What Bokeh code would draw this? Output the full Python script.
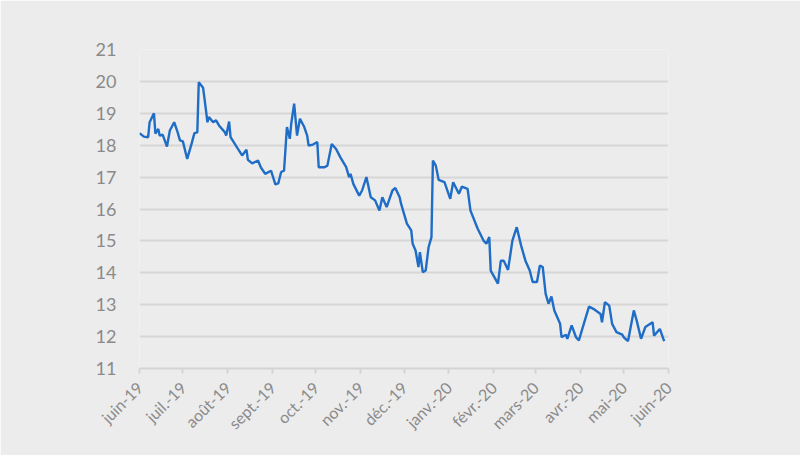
import math
import pandas as pd
from bokeh.plotting import figure
from bokeh.models import FixedTicker, Range1d
from bokeh.embed import file_html
from bokeh.resources import INLINE

start_date = "2019-06-01"
end_date = "2020-06-01"

# days since start_date
day_offsets = [0, 3, 6, 7, 10, 11, 13, 14, 16, 19, 21, 24, 26, 28, 30, 33, 36, 38, 40, 41,
               44, 45, 47, 48, 51, 53, 55, 59, 60, 62, 63, 68, 71, 74, 75, 78, 82, 84, 87, 91,
               94, 96, 98, 100, 102, 104, 105, 107, 109, 111, 114, 116, 117, 120, 123, 124, 128,
               130, 133, 136, 139, 143, 145, 146, 148, 152, 154, 157, 160, 163, 166, 168, 171,
               175, 177, 180, 181, 185, 188, 189, 191, 193, 194, 196, 198, 200, 202, 203, 205,
               207, 211, 215, 217, 221, 223, 227, 229, 234, 238, 240, 242, 243, 248, 250, 252,
               255, 258, 261, 264, 267, 270, 272, 275, 277, 279, 281, 283, 285, 287, 291, 292,
               295, 296, 299, 302, 304, 306, 311, 314, 319, 320, 322, 325, 327, 330, 334, 335,
               338, 342, 344, 347, 350, 355, 356, 360, 363]
values = [18.38, 18.27, 18.25, 18.72, 19.0, 18.36, 18.51, 18.3, 18.33, 17.96, 18.46, 18.72,
          18.46, 18.15, 18.12, 17.57, 18.04, 18.38, 18.4, 19.97, 19.8, 19.45, 18.72, 18.88,
          18.72, 18.78, 18.62, 18.41, 18.3, 18.74, 18.25, 17.89, 17.68, 17.86, 17.54, 17.43,
          17.52, 17.3, 17.1, 17.2, 16.77, 16.8, 17.16, 17.2, 18.57, 18.2, 18.68, 19.3, 18.3,
          18.83, 18.57, 18.3, 17.99, 18.02, 18.1, 17.31, 17.31, 17.36, 18.04, 17.88, 17.62,
          17.31, 17.0, 17.1, 16.78, 16.42, 16.58, 17.0, 16.37, 16.27, 15.95, 16.37, 16.06,
          16.58, 16.66, 16.37, 16.16, 15.54, 15.33, 14.91, 14.7, 14.18, 14.65, 14.02, 14.07,
          14.8, 15.12, 17.52, 17.36, 16.91, 16.84, 16.32, 16.84, 16.48, 16.7, 16.63, 15.95,
          15.38, 15.01, 14.91, 15.12, 14.07, 13.66, 14.38, 14.38, 14.09, 15.01, 15.43, 14.86,
          14.38, 14.07, 13.71, 13.71, 14.23, 14.18, 13.34, 13.03, 13.26, 12.82, 12.4, 11.98,
          12.06, 11.93, 12.35, 11.98, 11.88, 12.19, 12.94, 12.87, 12.71, 12.45, 13.08, 12.97,
          12.4, 12.14, 12.06, 11.98, 11.86, 12.82, 12.5, 11.93, 12.3, 12.45, 12.03, 12.24, 11.86]

month_starts = ["2019-06-01", "2019-07-01", "2019-08-01", "2019-09-01", "2019-10-01",
                "2019-11-01", "2019-12-01", "2020-01-01", "2020-02-01", "2020-03-01",
                "2020-04-01", "2020-05-01", "2020-06-01"]
month_labels = ["juin-19", "juil.-19", "août-19", "sept.-19", "oct.-19", "nov.-19",
                "déc.-19", "janv.-20", "févr.-20", "mars-20", "avr.-20", "mai-20", "juin-20"]
y_ticks = [11, 12, 13, 14, 15, 16, 17, 18, 19, 20, 21]


def ms(d):
    return float(pd.Timestamp(d).value // 10**6)


dates = pd.Timestamp(start_date) + pd.to_timedelta(day_offsets, unit="D")

BG = "#ececec"
p = figure(width=800, height=455, x_axis_type="datetime",
           x_range=Range1d(ms(start_date), ms(end_date)),
           y_range=Range1d(min(y_ticks), max(y_ticks)),
           output_backend="svg", toolbar_location=None,
           min_border_left=139, min_border_right=132,
           min_border_top=49, min_border_bottom=87)
p.background_fill_color = BG
p.border_fill_color = BG
p.outline_line_color = None

p.line(dates, values, line_color="#1f6dc6", line_width=2.4)

tick_ms = [ms(m) for m in month_starts]
p.xaxis.ticker = FixedTicker(ticks=tick_ms)
p.xaxis.major_label_overrides = {t: l for t, l in zip(tick_ms, month_labels)}
p.xaxis.major_label_orientation = math.pi / 4
p.xaxis.axis_line_color = "#d4d4d4"
p.xaxis.axis_line_width = 2
p.xaxis.major_tick_line_color = "#d4d4d4"
p.xaxis.major_tick_line_width = 2
p.xaxis.major_tick_out = 5
p.xaxis.major_tick_in = 0
p.xaxis.minor_tick_line_color = None
p.xaxis.major_label_text_font = "Lato"
p.xaxis.major_label_text_font_size = "16px"
p.xaxis.major_label_text_color = "#8a8a8a"
p.xaxis.major_label_standoff = 11

p.yaxis.ticker = FixedTicker(ticks=y_ticks)
p.yaxis.axis_line_color = None
p.yaxis.major_tick_line_color = None
p.yaxis.minor_tick_line_color = None
p.yaxis.major_label_text_font = "Lato"
p.yaxis.major_label_text_font_size = "18px"
p.yaxis.major_label_text_color = "#8a8a8a"
p.yaxis.major_label_standoff = 17

p.xgrid.visible = False
p.ygrid.ticker = FixedTicker(ticks=y_ticks)
p.ygrid.grid_line_color = "#d6d6d6"
p.ygrid.grid_line_width = 2

open("out.html", "w").write(file_html(p, INLINE))
